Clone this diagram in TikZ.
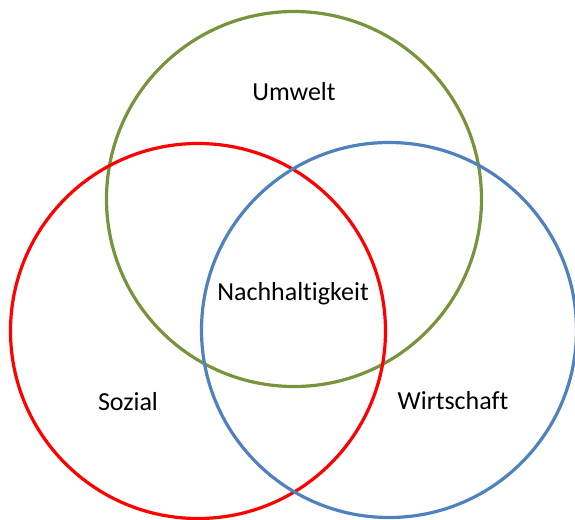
\documentclass[tikz,border=0pt]{standalone}
\usepackage{fontspec}
\setmainfont{Carlito}[Ligatures=NoCommon]
\usepackage{xcolor}
\usetikzlibrary{positioning}
\definecolor{umweltgreen}{RGB}{119,147,60}
\definecolor{sozialred}{RGB}{255,0,0}
\definecolor{wirtblue}{RGB}{79,129,189}
\tikzset{
  % Venn circle style
  ring/.style={
    circle, draw, line width = 3.2pt, minimum size = 375pt, inner sep = 0pt
  },
  % label style
  lbl/.style={
    font=\fontsize{26}{31}\selectfont, inner sep = 0pt
  },
}
\begin{document}
\begin{tikzpicture}[x=1pt,y=-1pt]
      \useasboundingbox (0,0) rectangle (575,519);
      \node[ring, draw=umweltgreen] (umw) at (294,199) {};
      \node[ring, draw=sozialred]   (soz) at (198,331) {};
      \node[ring, draw=wirtblue]    (wir) at (389,330) {};

      \node[lbl] (tumw) at (294,92)  {Umwelt};
      \node[lbl] (tnach) at (293,294) {Nachhaltigkeit};
      \node[lbl] (tsoz) at (128,402) {Sozial};
      \node[lbl] (twir) at (453,401) {Wirtschaft};
\end{tikzpicture}
\end{document}
